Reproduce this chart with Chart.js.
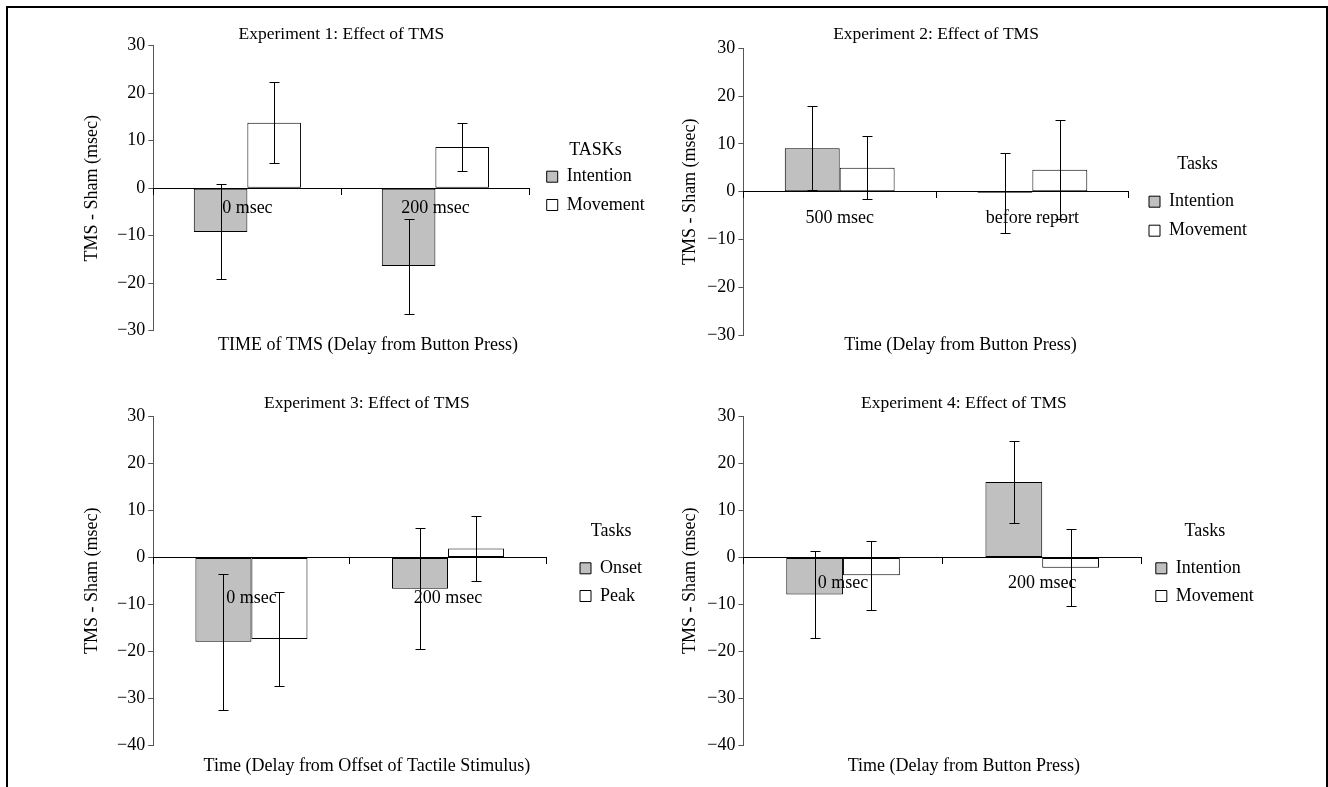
<!DOCTYPE html>
<html>
<head>
<meta charset="utf-8">
<script src="https://cdn.jsdelivr.net/npm/chart.js@4.4.1/dist/chart.umd.min.js"></script>
<style>
  html, body { margin: 0; padding: 0; background: #fff; width: 1328px; height: 787px; overflow: hidden; }
  #frame { position: absolute; left: 6px; top: 6px; width: 1318px; height: 800px; border: 2px solid #000; border-bottom: none; }
  canvas { position: absolute; }
</style>
</head>
<body>
<div id="frame"></div>
<canvas id="c1" width="664" height="388" style="left:0;top:0"></canvas>
<canvas id="c2" width="664" height="388" style="left:664px;top:0"></canvas>
<canvas id="c3" width="664" height="397" style="left:0;top:390px"></canvas>
<canvas id="c4" width="664" height="397" style="left:664px;top:390px"></canvas>
<script>
// Experiment 1
const exp1Labels = ['0 msec', '200 msec'];
const exp1Names = ['Intention', 'Movement'];
const exp1Intention = [-9.2, -16.4];
const exp1IntentionErr = [10.0, 10.0];
const exp1Movement = [13.8, 8.7];
const exp1MovementErr = [8.5, 5.0];

// Experiment 2
const exp2Labels = ['500 msec', 'before report'];
const exp2Names = ['Intention', 'Movement'];
const exp2Intention = [9.1, -0.3];
const exp2IntentionErr = [8.8, 8.4];
const exp2Movement = [5.0, 4.6];
const exp2MovementErr = [6.6, 10.3];

// Experiment 3
const exp3Labels = ['0 msec', '200 msec'];
const exp3Names = ['Onset', 'Peak'];
const exp3Onset = [-18.0, -6.7];
const exp3OnsetErr = [14.5, 12.9];
const exp3Peak = [-17.4, 1.9];
const exp3PeakErr = [10.0, 6.9];

// Experiment 4
const exp4Labels = ['0 msec', '200 msec'];
const exp4Names = ['Intention', 'Movement'];
const exp4Intention = [-7.9, 16.1];
const exp4IntentionErr = [9.2, 8.7];
const exp4Movement = [-3.8, -2.2];
const exp4MovementErr = [7.4, 8.2];

const yRangeTop = [-30, 30];
const yRangeBottom = [-40, 30];

const FONT = "'Liberation Serif', 'Times New Roman', serif";
Chart.defaults.font.family = FONT;
Chart.defaults.color = '#000';

// error bars drawn from the bar elements and the y scale
const errorBars = {
    id: 'errorBars',
    afterDatasetsDraw(chart) {
        const ctx = chart.ctx;
        const y = chart.scales.y;
        ctx.save();
        ctx.strokeStyle = '#000';
        ctx.lineWidth = 1;
        chart.data.datasets.forEach((ds, i) => {
            chart.getDatasetMeta(i).data.forEach((bar, j) => {
                const v = ds.data[j];
                const e = ds.errors[j];
                const x = Math.round(bar.x) + 0.5;
                const top = Math.round(y.getPixelForValue(v + e)) + 0.5;
                const bot = Math.round(y.getPixelForValue(v - e)) + 0.5;
                ctx.beginPath();
                ctx.moveTo(x, top); ctx.lineTo(x, bot);
                ctx.moveTo(x - 5, top); ctx.lineTo(x + 5, top);
                ctx.moveTo(x - 5, bot); ctx.lineTo(x + 5, bot);
                ctx.stroke();
            });
        });
        ctx.restore();
    }
};

function makePanel(id, p) {
    const colors = ['#c0c0c0', '#ffffff'];
    const datasets = p.series.map((s, i) => ({
        label: p.names[i],
        data: s,
        errors: p.errors[i],
        backgroundColor: colors[i],
        borderColor: '#000',
        borderWidth: 1,
        borderSkipped: false,
        categoryPercentage: 0.57,
        barPercentage: 1.0
    }));
    const L = p.lay;
    return new Chart(document.getElementById(id), {
        type: 'bar',
        data: { labels: p.labels, datasets: datasets },
        plugins: [errorBars],
        options: {
            responsive: false,
            animation: false,
            layout: { padding: { left: L.pl, right: L.pr, top: 0, bottom: 0 } },
            plugins: {
                title: {
                    display: true,
                    text: p.title,
                    fullSize: L.titleFull,
                    font: { size: 17.5, weight: 'normal' },
                    color: '#000',
                    padding: L.titlePad
                },
                subtitle: {
                    display: true,
                    text: p.xTitle,
                    position: 'bottom',
                    fullSize: true,
                    font: { size: 18 },
                    color: '#000',
                    padding: L.subPad
                },
                legend: {
                    position: 'right',
                    align: 'start',
                    maxWidth: 300,
                    title: {
                        display: true,
                        text: p.legendTitle,
                        font: { size: 18 },
                        color: '#000',
                        padding: L.legTitlePad
                    },
                    labels: {
                        boxWidth: 11,
                        boxHeight: 11,
                        padding: L.legPad,
                        font: { size: 18 },
                        color: '#000'
                    }
                },
                tooltip: { enabled: false }
            },
            scales: {
                x: {
                    position: { y: 0 },
                    offset: true,
                    grid: { drawOnChartArea: false, tickLength: 6, color: '#000', offset: true, z: 1 },
                    border: { color: '#000', width: 1, z: 1 },
                    ticks: { font: { size: 18 }, color: '#000', padding: L.tickPad, maxRotation: 0, z: 1 }
                },
                y: {
                    min: p.range[0],
                    max: p.range[1],
                    grid: { drawOnChartArea: false, tickLength: 5, color: '#555' },
                    border: { color: '#555', width: 1 },
                    ticks: {
                        stepSize: 10,
                        font: { size: 18 },
                        color: '#000',
                        padding: 3,
                        callback: v => String(v).replace('-', '\u2212')
                    },
                    title: {
                        display: true,
                        text: 'TMS - Sham (msec)',
                        font: { size: 18 },
                        color: '#000',
                        padding: L.yTitlePad
                    }
                },
                gap: {
                    type: 'linear',
                    position: 'right',
                    display: true,
                    grid: { display: false },
                    border: { display: false },
                    ticks: { display: false },
                    afterFit(s) { s.width = L.gap; }
                }
            }
        }
    });
}

makePanel('c1', {
    title: 'Experiment 1: Effect of TMS',
    xTitle: 'TIME of TMS (Delay from Button Press)',
    legendTitle: 'TASKs',
    labels: exp1Labels, names: exp1Names,
    series: [exp1Intention, exp1Movement],
    errors: [exp1IntentionErr, exp1MovementErr],
    range: yRangeTop,
    lay: { pl: 81.2, pr: 9.3, gap: 7, yTitlePad: { top: 0, bottom: 11.4 }, titleFull: false,
           titlePad: { top: 23.5, bottom: 1.2 }, subPad: { top: 3.5, bottom: 32.2 },
           legTitlePad: { top: 141.7, bottom: -5.9 }, legPad: 10.3, tickPad: 3.3 }
});

makePanel('c2', {
    title: 'Experiment 2: Effect of TMS',
    xTitle: 'Time (Delay from Button Press)',
    legendTitle: 'Tasks',
    labels: exp2Labels, names: exp2Names,
    series: [exp2Intention, exp2Movement],
    errors: [exp2IntentionErr, exp2MovementErr],
    range: yRangeTop,
    lay: { pl: 0, pr: 71, gap: 9.3, yTitlePad: { top: 15.2, bottom: 3.4 }, titleFull: false,
           titlePad: { top: 23.5, bottom: 3.8 }, subPad: { top: -0.8, bottom: 32.2 },
           legTitlePad: { top: 155, bottom: 5.1 }, legPad: 11, tickPad: 9.85 }
});

makePanel('c3', {
    title: 'Experiment 3: Effect of TMS',
    xTitle: 'Time (Delay from Offset of Tactile Stimulus)',
    legendTitle: 'Tasks',
    labels: exp3Labels, names: exp3Names,
    series: [exp3Onset, exp3Peak],
    errors: [exp3OnsetErr, exp3PeakErr],
    range: yRangeBottom,
    lay: { pl: 81.8, pr: 12, gap: 24, yTitlePad: { top: 0, bottom: 10.6 }, titleFull: true,
           titlePad: { top: 2.8, bottom: 2.9 }, subPad: { top: 10.9, bottom: 9.5 },
           legTitlePad: { top: 132.7, bottom: 5.3 }, legPad: 9.7, tickPad: 24.1 }
});

makePanel('c4', {
    title: 'Experiment 4: Effect of TMS',
    xTitle: 'Time (Delay from Button Press)',
    legendTitle: 'Tasks',
    labels: exp4Labels, names: exp4Names,
    series: [exp4Intention, exp4Movement],
    errors: [exp4IntentionErr, exp4MovementErr],
    range: yRangeBottom,
    lay: { pl: 0, pr: 64.2, gap: 4.3, yTitlePad: { top: 15.2, bottom: 3.5 }, titleFull: true,
           titlePad: { top: 2.8, bottom: 2.9 }, subPad: { top: 10.9, bottom: 9.5 },
           legTitlePad: { top: 132.7, bottom: 5.3 }, legPad: 9.7, tickPad: 8.7 }
});
</script>
</body>
</html>
